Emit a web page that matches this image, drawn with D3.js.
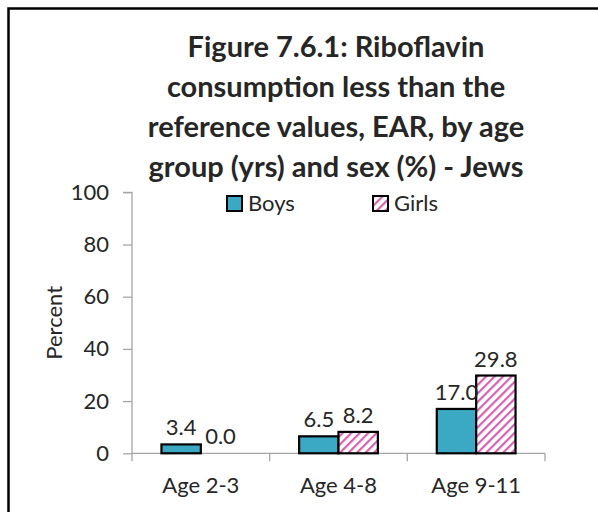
<!DOCTYPE html>
<html>
<head>
<meta charset="utf-8">
<script src="https://cdn.jsdelivr.net/npm/d3@7"></script>
<style>
  html, body { margin: 0; padding: 0; background: #fff; }
  svg { display: block; }
  text { font-family: Lato, "Open Sans", sans-serif; fill: #262626; }
</style>
</head>
<body>
<div id="chart"></div>
<script>
// ---- data ----
const categories = ["Age 2-3", "Age 4-8", "Age 9-11"];
const seriesNames = ["Boys", "Girls"];
const boys = [3.4, 6.5, 17.0];
const girls = [0.0, 8.2, 29.8];
const yTicks = [0, 20, 40, 60, 80, 100];
const titleLines = [
  "Figure 7.6.1: Riboflavin",
  "consumption less than the",
  "reference values, EAR, by age",
  "group (yrs) and sex (%) - Jews"
];
const yLabel = "Percent";

// ---- layout ----
const W = 598, H = 512;
const plot = { left: 132, right: 545, top: 192.3, bottom: 453.3 };

const svg = d3.select("#chart").append("svg")
  .attr("width", W).attr("height", H);

svg.append("rect").attr("width", W).attr("height", H).attr("fill", "#fff");

// pattern for girls
const defs = svg.append("defs");
const pat = defs.append("pattern")
  .attr("id", "girlsPat")
  .attr("patternUnits", "userSpaceOnUse")
  .attr("width", 6).attr("height", 6)
  .attr("patternTransform", "rotate(45)");
pat.append("rect").attr("width", 6).attr("height", 6).attr("fill", "#fff");
pat.append("rect").attr("x", 0).attr("y", 0).attr("width", 2.2).attr("height", 6).attr("fill", "#D862AE");

const colors = { Boys: "#3BA8C4", Girls: "url(#girlsPat)" };

// border (top and left only visible)
svg.append("path")
  .attr("d", `M8.5,${H} L8.5,8.5 L${W},8.5`)
  .attr("fill", "none").attr("stroke", "#000").attr("stroke-width", 2.5);

// title
const title = svg.append("text")
  .attr("text-anchor", "middle")
  .style("font-weight", "bold")
  .style("font-size", "29px");
titleLines.forEach((l, i) => {
  title.append("tspan").attr("x", 336).attr("y", 57 + i * 40).text(l);
});

// scales
const x0 = d3.scaleBand().domain(categories)
  .range([plot.left, plot.right])
  .paddingInner(0.428).paddingOuter(0.214);
const x1 = d3.scaleBand().domain(seriesNames)
  .range([0, x0.bandwidth()]);
const y = d3.scaleLinear().domain([0, 100]).range([plot.bottom, plot.top]);

// y axis
const yAxis = d3.axisLeft(y).tickValues(yTicks).tickSize(9).tickPadding(14);
const gy = svg.append("g").attr("transform", `translate(${plot.left},0)`).call(yAxis);
gy.select(".domain").attr("stroke", "#A6A6A6").attr("stroke-width", 1.3)
  .attr("d", `M-9,${plot.top}H0V${plot.bottom}`);
gy.selectAll(".tick line").attr("stroke", "#A6A6A6").attr("stroke-width", 1.3);
gy.selectAll(".tick text").style("font-size", "22px").style("font-family", "Lato").attr("fill", "#262626");

// x axis
const xAxis = d3.axisBottom(x0).tickSize(0).tickPadding(24);
const gx = svg.append("g").attr("transform", `translate(0,${plot.bottom})`).call(xAxis);
gx.select(".domain").attr("stroke", "#A6A6A6").attr("stroke-width", 1.3)
  .attr("d", `M${plot.left},0H${plot.right}`);
gx.selectAll(".tick text").style("font-size", "22px").style("font-family", "Lato").attr("fill", "#262626");
// category boundary ticks
const step = x0.step();
const bounds = d3.range(categories.length + 1).map(i => plot.left + i * step);
gx.selectAll(".bound").data(bounds).enter().append("line")
  .attr("x1", d => d).attr("x2", d => d).attr("y1", 0).attr("y2", 8)
  .attr("stroke", "#A6A6A6").attr("stroke-width", 1.3);

// y label
svg.append("text")
  .attr("transform", `translate(62,${(plot.top + plot.bottom) / 2}) rotate(-90)`)
  .attr("text-anchor", "middle")
  .style("font-size", "22px")
  .text(yLabel);

// bars
const rows = categories.map((c, i) => ({ cat: c, Boys: boys[i], Girls: girls[i] }));
const groups = svg.append("g").selectAll("g").data(rows).enter().append("g")
  .attr("transform", d => `translate(${x0(d.cat)},0)`);

groups.selectAll("rect").data(d => seriesNames.map(s => ({ s, v: d[s] })))
  .enter().append("rect")
  .attr("x", d => x1(d.s))
  .attr("y", d => y(d.v))
  .attr("width", x1.bandwidth())
  .attr("height", d => y(0) - y(d.v))
  .attr("fill", d => colors[d.s])
  .attr("stroke", d => d.v > 0 ? "#000" : "none")
  .attr("stroke-width", 2.2);

groups.selectAll("text.val").data(d => seriesNames.map(s => ({ s, v: d[s] })))
  .enter().append("text")
  .attr("class", "val")
  .attr("x", d => x1(d.s) + x1.bandwidth() / 2)
  .attr("y", d => y(d.v) - 9)
  .attr("text-anchor", "middle")
  .style("font-size", "22px")
  .text(d => d.v.toFixed(1));

// legend
const legendPos = [{ s: "Boys", x: 227 }, { s: "Girls", x: 373 }];
const leg = svg.append("g").selectAll("g").data(legendPos).enter().append("g")
  .attr("transform", d => `translate(${d.x},196)`);
leg.append("rect").attr("width", 15).attr("height", 15)
  .attr("fill", d => colors[d.s]).attr("stroke", "#000").attr("stroke-width", 2);
leg.append("text").attr("x", 21).attr("y", 15)
  .style("font-size", "22px").text(d => d.s);
</script>
</body>
</html>
